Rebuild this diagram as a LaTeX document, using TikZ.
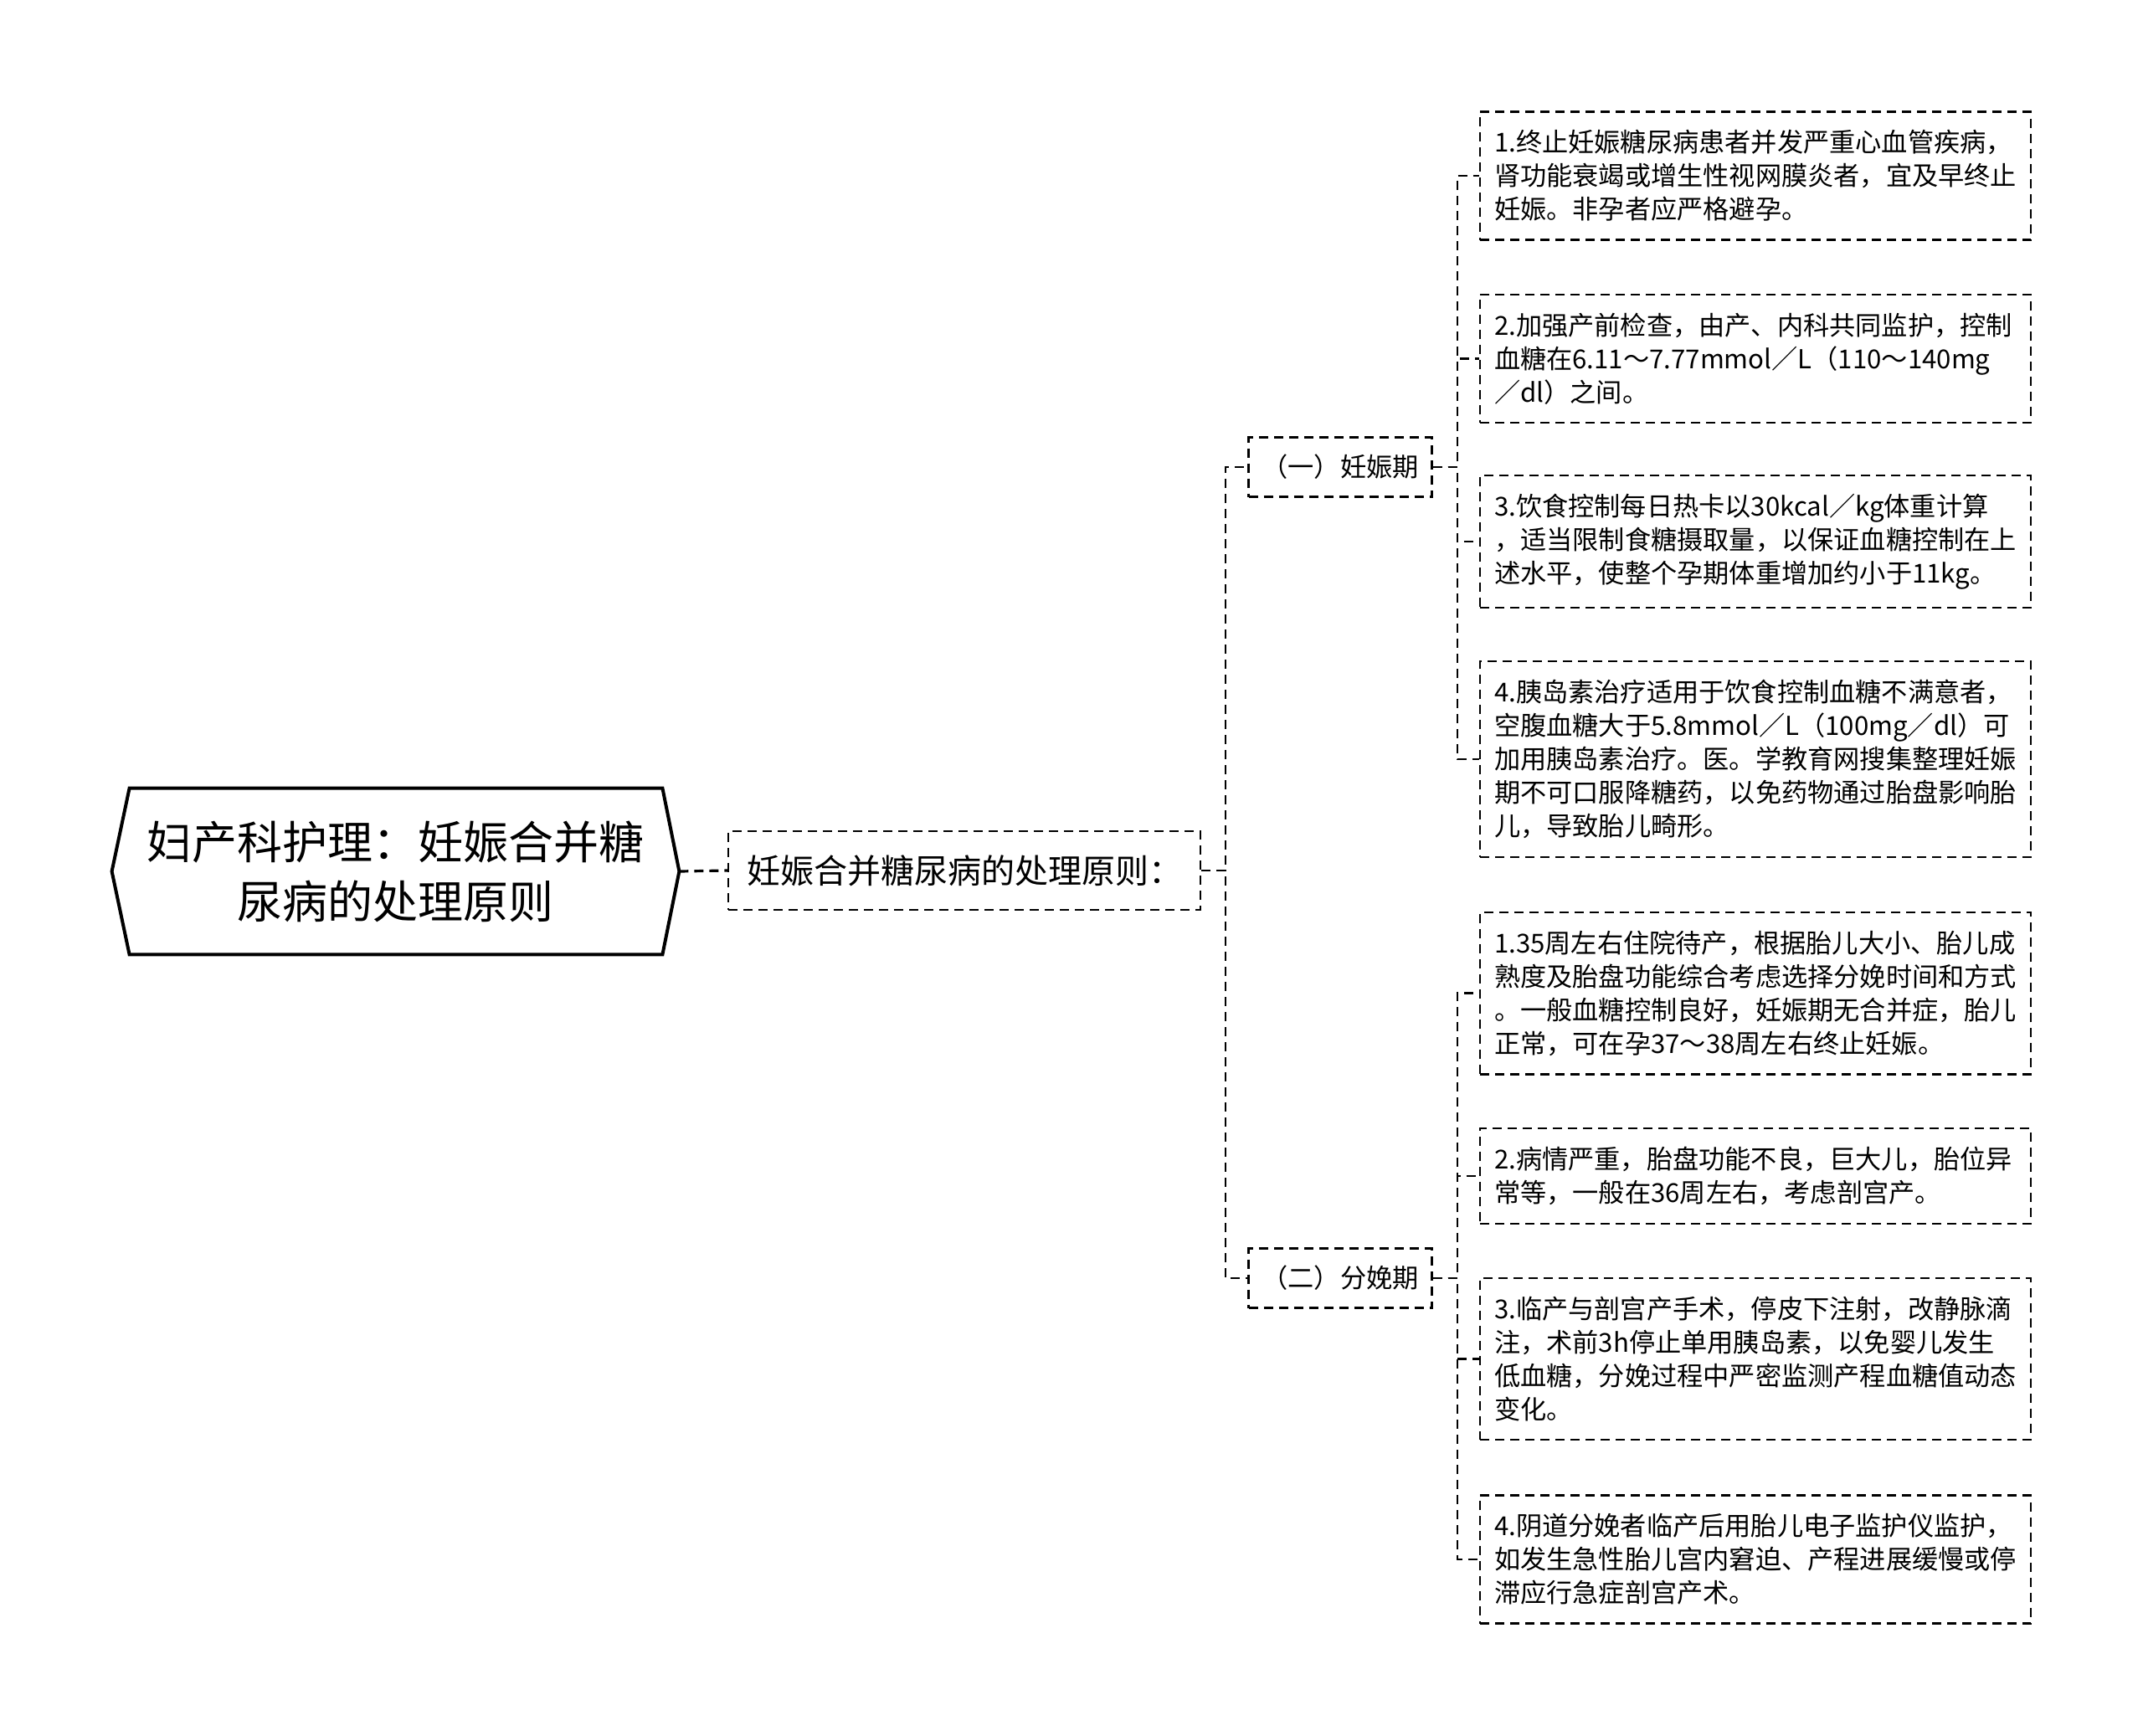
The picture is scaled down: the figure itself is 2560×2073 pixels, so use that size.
\documentclass[tikz,border=0pt]{standalone}
\usepackage{fontspec}
\setmainfont{Noto Sans CJK SC}
\tikzset{
  leaf/.style = {draw, dash pattern=on 5.5pt off 3.5pt, line width=1.1pt, align=left, text width=312pt, inner xsep=8.5pt, inner ysep=11pt, font=\fontsize{15.6}{20}\selectfont},
  stage/.style = {draw, dash pattern=on 5.5pt off 3.5pt, line width=1.1pt, minimum width=109.5pt, minimum height=35.5pt, inner sep=0pt, font=\fontsize{15.6}{20}\selectfont},
  topic/.style = {draw, dash pattern=on 5.5pt off 3.5pt, line width=1.1pt, minimum width=282pt, minimum height=47pt, inner sep=0pt, font=\fontsize{20}{24}\selectfont},
  roottext/.style = {minimum width=338.5pt, minimum height=99pt, inner sep=0pt, align=center, font=\fontsize{27}{35.5}\selectfont},
  rootline/.style = {line width=2pt, line join=miter},
  link/.style = {dash pattern=on 5.5pt off 3.5pt, line width=1.1pt},
}
\begin{document}
\begin{tikzpicture}[x=0.5pt, y=-0.5pt]
\useasboundingbox [fill=white] (0,0) rectangle (2560,2073);
\node [roottext, at = {(472.5,1041)}] (root) {妇产科护理：妊娠合并糖\\尿病的处理原则};
\draw [rootline] (root.west) -- ([xshift=10.5pt]root.north west) -- ([xshift=-10pt]root.north east) -- (root.east) -- ([xshift=-10pt]root.south east) -- ([xshift=10.5pt]root.south west) -- cycle;
\node [topic, at = {(1152,1040)}] (yuanze) {妊娠合并糖尿病的处理原则：};
\node [stage, at = {(1601,558)}] (renshen) {（一）妊娠期};
\node [stage, at = {(1601,1527)}] (fenmian) {（二）分娩期};
\node [leaf, at = {(2097,210)}] (rs1) {1.终止妊娠糖尿病患者并发严重心血管疾病，\\肾功能衰竭或增生性视网膜炎者，宜及早终止\\妊娠。非孕者应严格避孕。};
\node [leaf, at = {(2097,428.5)}] (rs2) {2.加强产前检查，由产、内科共同监护，控制\\血糖在6.11～7.77mmol／L（110～140mg\\／dl）之间。};
\node [leaf, at = {(2097,647)}] (rs3) {3.饮食控制每日热卡以30kcal／kg体重计算\\，适当限制食糖摄取量，以保证血糖控制在上\\述水平，使整个孕期体重增加约小于11kg。};
\node [leaf, at = {(2097,907)}] (rs4) {4.胰岛素治疗适用于饮食控制血糖不满意者，\\空腹血糖大于5.8mmol／L（100mg／dl）可\\加用胰岛素治疗。医。学教育网搜集整理妊娠\\期不可口服降糖药，以免药物通过胎盘影响胎\\儿，导致胎儿畸形。};
\node [leaf, at = {(2097,1186.5)}] (fm1) {1.35周左右住院待产，根据胎儿大小、胎儿成\\熟度及胎盘功能综合考虑选择分娩时间和方式\\。一般血糖控制良好，妊娠期无合并症，胎儿\\正常，可在孕37～38周左右终止妊娠。};
\node [leaf, at = {(2097,1405)}] (fm2) {2.病情严重，胎盘功能不良，巨大儿，胎位异\\常等，一般在36周左右，考虑剖宫产。};
\node [leaf, at = {(2097,1623.5)}] (fm3) {3.临产与剖宫产手术，停皮下注射，改静脉滴\\注，术前3h停止单用胰岛素，以免婴儿发生\\低血糖，分娩过程中严密监测产程血糖值动态\\变化。};
\node [leaf, at = {(2097,1863)}] (fm4) {4.阴道分娩者临产后用胎儿电子监护仪监护，\\如发生急性胎儿宫内窘迫、产程进展缓慢或停\\滞应行急症剖宫产术。};
\draw [link, line width=1.6pt] (root.east) -- (yuanze.west);
\draw [link] (yuanze.east) -- ++(29,0) |- (renshen.west);
\draw [link] (yuanze.east) -- ++(29,0) |- (fenmian.west);
\foreach \k in {rs1,rs2,rs3,rs4}
  \draw [link] (renshen.east) -- ++(29,0) |- (\k.west);
\foreach \k in {fm1,fm2,fm3,fm4}
  \draw [link] (fenmian.east) -- ++(29,0) |- (\k.west);
\end{tikzpicture}
\end{document}
